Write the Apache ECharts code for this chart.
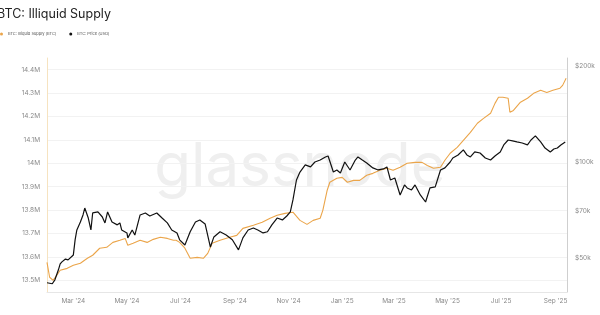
<!DOCTYPE html>
<html><head><meta charset="utf-8">
<script src="https://cdn.jsdelivr.net/npm/echarts@6/dist/echarts.min.js"></script>
<style>html,body{margin:0;padding:0;background:#fff;overflow:hidden}#c{width:600px;height:315px}</style>
</head><body><div id="c"></div>
<script>
const titleText = 'BTC: Illiquid Supply';
const seriesNames = ['BTC: Illiquid Supply (BTC)', 'BTC: Price (USD)'];
const watermarkText = 'glassnode';

const supplyDates = ['2024-01-31','2024-02-03','2024-02-07','2024-02-11','2024-02-15','2024-02-23','2024-03-01','2024-03-09','2024-03-17','2024-03-23','2024-03-31','2024-04-08','2024-04-15','2024-04-23','2024-04-29','2024-05-02','2024-05-08','2024-05-16','2024-05-24','2024-05-31','2024-06-08','2024-06-16','2024-06-23','2024-06-26','2024-06-30','2024-07-06','2024-07-12','2024-07-20','2024-07-27','2024-08-01','2024-08-06','2024-08-15','2024-08-26','2024-09-03','2024-09-10','2024-09-22','2024-10-02','2024-10-11','2024-10-19','2024-10-28','2024-11-06','2024-11-14','2024-11-22','2024-11-29','2024-12-07','2024-12-10','2024-12-15','2024-12-18','2024-12-26','2025-01-01','2025-01-07','2025-01-14','2025-01-21','2025-01-29','2025-02-05','2025-02-13','2025-02-21','2025-02-28','2025-03-08','2025-03-16','2025-03-25','2025-04-02','2025-04-08','2025-04-15','2025-04-23','2025-04-28','2025-05-04','2025-05-12','2025-05-19','2025-05-27','2025-06-04','2025-06-11','2025-06-19','2025-06-24','2025-06-28','2025-07-03','2025-07-09','2025-07-11','2025-07-15','2025-07-23','2025-07-31','2025-08-07','2025-08-15','2025-08-22','2025-08-29','2025-09-06','2025-09-09','2025-09-13'];
const supplyValues = [13577000,13513000,13500000,13521000,13543000,13551000,13564000,13573000,13594000,13607000,13637000,13641000,13662000,13671000,13679000,13650000,13658000,13671000,13662000,13675000,13684000,13679000,13671000,13671000,13662000,13637000,13594000,13598000,13594000,13615000,13658000,13671000,13684000,13692000,13722000,13735000,13748000,13765000,13778000,13786000,13791000,13756000,13739000,13756000,13765000,13799000,13885000,13919000,13936000,13940000,13919000,13927000,13927000,13949000,13957000,13970000,13979000,13970000,13983000,14000000,14004000,14004000,13991000,13979000,13983000,14013000,14043000,14068000,14098000,14132000,14171000,14192000,14214000,14256000,14282000,14282000,14278000,14218000,14226000,14261000,14278000,14299000,14312000,14303000,14312000,14321000,14333000,14363000];

const priceDates = ['2024-01-31','2024-02-02','2024-02-06','2024-02-09','2024-02-13','2024-02-15','2024-02-17','2024-02-21','2024-02-24','2024-02-26','2024-03-01','2024-03-03','2024-03-05','2024-03-09','2024-03-12','2024-03-14','2024-03-18','2024-03-21','2024-03-23','2024-03-29','2024-04-03','2024-04-06','2024-04-09','2024-04-14','2024-04-20','2024-04-23','2024-04-25','2024-05-01','2024-05-02','2024-05-07','2024-05-10','2024-05-16','2024-05-22','2024-05-27','2024-06-04','2024-06-10','2024-06-16','2024-06-21','2024-06-27','2024-06-30','2024-07-06','2024-07-12','2024-07-18','2024-07-23','2024-07-29','2024-08-04','2024-08-08','2024-08-15','2024-08-22','2024-08-29','2024-09-05','2024-09-10','2024-09-16','2024-09-22','2024-09-27','2024-10-03','2024-10-08','2024-10-13','2024-10-19','2024-10-25','2024-10-30','2024-11-03','2024-11-06','2024-11-10','2024-11-14','2024-11-20','2024-11-26','2024-12-01','2024-12-07','2024-12-13','2024-12-16','2024-12-22','2024-12-26','2024-12-30','2025-01-04','2025-01-10','2025-01-16','2025-01-19','2025-01-24','2025-01-29','2025-02-05','2025-02-11','2025-02-17','2025-02-21','2025-02-25','2025-03-02','2025-03-08','2025-03-13','2025-03-16','2025-03-21','2025-03-25','2025-03-31','2025-04-06','2025-04-11','2025-04-17','2025-04-23','2025-04-28','2025-05-04','2025-05-07','2025-05-13','2025-05-19','2025-05-23','2025-05-27','2025-06-01','2025-06-07','2025-06-13','2025-06-19','2025-06-24','2025-06-30','2025-07-04','2025-07-09','2025-07-14','2025-07-19','2025-07-25','2025-07-31','2025-08-04','2025-08-09','2025-08-15','2025-08-20','2025-08-26','2025-08-30','2025-09-03','2025-09-07','2025-09-12'];
const priceValues = [41800,41500,41500,42700,45900,47900,48600,49600,49300,48600,51100,57000,61200,64800,68200,71700,66700,61200,69200,69700,67200,64400,69700,64800,63500,64400,61200,59900,57800,61200,59000,68200,69200,67700,69200,66700,64400,61200,59900,57000,54900,60400,64800,65800,63900,54100,58200,60400,59000,57000,53000,57800,61200,62100,61200,59900,60400,63500,66700,65800,67700,69700,76000,87800,93000,97900,96500,100000,101400,103700,104400,93000,94400,92400,100000,94400,101400,103700,101400,99300,95800,94400,95100,96500,87800,89100,78800,84700,82900,81700,84700,78800,74900,82900,83500,94400,95800,100000,102900,105200,109100,105200,103700,107500,106700,102900,101400,104400,107500,113100,117200,116400,115600,114700,113100,117200,120700,115600,110600,107500,109800,110600,113100,115600];

const xTickDates = ['2024-03-01','2024-05-01','2024-07-01','2024-09-01','2024-11-01','2025-01-01','2025-03-01','2025-05-01','2025-07-01','2025-09-01'];
const priceTicks = [50000, 70000, 100000, 200000];
const monthNames = ['Jan','Feb','Mar','Apr','May','Jun','Jul','Aug','Sep','Oct','Nov','Dec'];

function ts(s){ const p = s.split('-').map(Number); return new Date(p[0], p[1]-1, p[2]).getTime(); }

const supplyData = supplyDates.map((d,i)=>[ts(d), supplyValues[i]]);
const priceData = priceDates.map((d,i)=>[ts(d), priceValues[i]]);

const chart = echarts.init(document.getElementById('c'), null, {renderer:'canvas'});
const FONT = 'Inter, "Noto Sans", sans-serif';
chart.setOption({
  animation: false,
  backgroundColor: '#fff',
  title: { text: titleText, left: -3, top: 8, padding: 0, textStyle: { fontSize: 12.5, fontWeight: 'normal', color: '#222', fontFamily: FONT } },
  legend: {
    left: 0, top: 32, padding: 0, itemWidth: 3, itemHeight: 3, itemGap: 13, icon: 'circle',
    textStyle: { fontSize: 4, color: '#555', fontFamily: FONT },
    data: [ { name: seriesNames[0] }, { name: seriesNames[1] } ]
  },
  graphic: [{
    type: 'text', left: 'center', top: 138, z: -10, silent: true,
    style: { text: watermarkText, font: '400 60px Inter, "Noto Sans", sans-serif', fill: '#efefef' }
  }],
  grid: { left: 47, right: 33, top: 58, bottom: 23, containLabel: false },
  xAxis: {
    type: 'value',
    min: ts('2024-01-31'), max: ts('2025-09-14'),
    axisLine: { show: true, lineStyle: { color: '#e6e6e6', width: 1 } },
    axisTick: { show: false },
    splitLine: { show: false },
    axisLabel: {
      customValues: xTickDates.map(ts),
      fontSize: 6.5, color: '#8a8a8a', fontFamily: FONT, margin: 6,
      formatter: function(v){ const d = new Date(v); return monthNames[d.getMonth()] + " '" + String(d.getFullYear()).slice(2); }
    }
  },
  yAxis: [{
    type: 'value', position: 'left',
    min: 13450000, max: 14450000, splitNumber: 10,
    axisLine: { show: true, lineStyle: { color: '#f6e3c0', width: 1 } },
    axisTick: { show: false },
    splitLine: { show: true, showMinLine: false, showMaxLine: false, lineStyle: { color: '#f2f2f2', width: 1 } },
    axisLabel: {
      showMinLabel: false, showMaxLabel: false,
      fontSize: 6.5, color: '#8a8a8a', fontFamily: FONT, margin: 7,
      formatter: function(v){ return (Math.round(v/1e5)/10) + 'M'; }
    }
  }, {
    type: 'log', position: 'right', logBase: 10,
    min: 39100, max: 211900,
    axisLine: { show: true, lineStyle: { color: '#cfcfcf', width: 1 } },
    axisTick: { show: false },
    splitLine: { show: false },
    minorSplitLine: { show: false },
    axisLabel: {
      customValues: priceTicks,
      fontSize: 6.5, color: '#8a8a8a', fontFamily: FONT, margin: 8,
      formatter: function(v){ return '$' + Math.round(v/1000) + 'k'; }
    }
  }],
  series: [{
    name: seriesNames[0], type: 'line', yAxisIndex: 0, data: supplyData,
    showSymbol: false, symbol: 'circle', z: 3,
    lineStyle: { color: '#eba54a', width: 1.1 }, itemStyle: { color: '#eba54a' }
  }, {
    name: seriesNames[1], type: 'line', yAxisIndex: 1, data: priceData,
    showSymbol: false, symbol: 'circle', z: 4,
    lineStyle: { color: '#111', width: 1.2 }, itemStyle: { color: '#111' }
  }]
});
</script>
</body></html>
